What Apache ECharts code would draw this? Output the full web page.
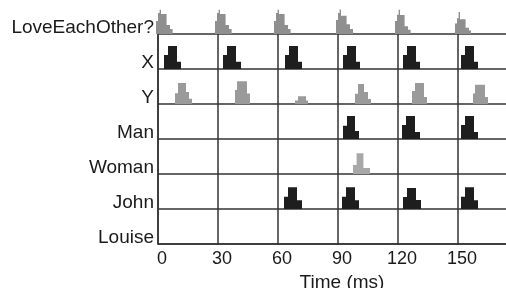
<!DOCTYPE html>
<html>
<head>
<meta charset="utf-8">
<script src="https://cdn.jsdelivr.net/npm/echarts@6/dist/echarts.min.js"></script>
<style>html,body{margin:0;padding:0;background:#fff}#c{width:506px;height:288px}</style>
</head>
<body>
<div id="c"></div>
<script>
// Row labels, top to bottom
const rows = ['LoveEachOther?', 'X', 'Y', 'Man', 'Woman', 'John', 'Louise'];
const xTicks = [0, 30, 60, 90, 120, 150];
const xMax = 174;

// Activity bursts per unit: each burst = list of bins [tStart(ms), tEnd(ms), height (row units)]
const loveEachOther = [
  [[-1,0,.37],[0,.8,.6],[.8,1.5,.69],[1.5,4.3,.57],[4.3,6,.26],[6,7.3,.14]],
  [[28.5,29.5,.37],[29.5,30.3,.6],[30.3,31,.69],[31,33.8,.57],[33.8,35.5,.26],[35.5,36.8,.14]],
  [[58,59,.37],[59,59.8,.6],[59.8,60.5,.69],[60.5,63.3,.57],[63.3,65,.26],[65,66.3,.14]],
  [[89,90,.4],[90,90.8,.6],[90.8,91.5,.7],[91.5,94.3,.52],[94.3,96,.28],[96,97.5,.14]],
  [[118.5,119.5,.37],[119.5,120.3,.55],[120.3,121,.69],[121,123.3,.54],[123.3,125,.22],[125,126.3,.12]],
  [[148.5,149.5,.3],[149.5,150.3,.45],[150.3,151,.63],[151,153.8,.42],[153.8,155.5,.18],[155.5,156.5,.1]]
];
const unitX = [
  [[3,5,.4],[5,9.5,.66],[9.5,11.5,.21]],
  [[32.5,34.5,.4],[34.5,39,.66],[39,41.5,.21]],
  [[63.5,65.5,.4],[65.5,70,.66],[70,72,.21]],
  [[92.5,94.5,.4],[94.5,99,.66],[99,101,.21]],
  [[122.5,124.5,.4],[124.5,129,.66],[129,131,.21]],
  [[151.5,153.5,.4],[153.5,158,.66],[158,160,.21]]
];
const unitY = [
  [[8.5,10,.31],[10,14,.6],[14,15.5,.34],[15.5,17,.15]],
  [[38.5,39.5,.4],[39.5,44.5,.65],[44.5,46,.3]],
  [[68.5,70,.1],[70,74,.22],[74,75,.1]],
  [[98.5,100,.29],[100,103,.57],[103,105,.34],[105,106.5,.14]],
  [[127,128.5,.37],[128.5,133,.6],[133,134.5,.2]],
  [[157.5,158.5,.3],[158.5,163.5,.55],[163.5,165,.2]]
];
const unitMan = [
  [[92.5,94.5,.38],[94.5,98.5,.66],[98.5,100.5,.23]],
  [[122,124,.4],[124,128.5,.66],[128.5,131,.2]],
  [[151.5,153.5,.4],[153.5,158,.66],[158,160,.2]]
];
const unitWoman = [
  [[97.5,99.3,.26],[99.3,102.7,.59],[102.7,106,.17]]
];
const unitJohn = [
  [[63,65,.35],[65,69.5,.62],[69.5,72,.25]],
  [[92,94,.35],[94,98.5,.62],[98.5,100.5,.25]],
  [[122.5,124.5,.34],[124.5,129,.6],[129,131.5,.26]],
  [[151.5,153.5,.35],[153.5,158,.62],[158,160,.25]]
];
const unitLouise = [];

const rowData = [loveEachOther, unitX, unitY, unitMan, unitWoman, unitJohn, unitLouise];
const rowColors = ['#8f8f8f', '#1e1e1e', '#9a9a9a', '#1e1e1e', '#a8a8a8', '#1e1e1e', '#1e1e1e'];

const font = 'Liberation Sans, Arial, Helvetica, sans-serif';
const lineColor = '#333';

const series = rowData.map(function (bursts, r) {
  const base = rows.length - 1 - r;
  return {
    type: 'custom',
    clip: false,
    data: bursts.map(function (b) { return [b[0][0], base]; }),
    renderItem: function (params, api) {
      const bins = bursts[params.dataIndex];
      const pts = [];
      pts.push(api.coord([bins[0][0], base]));
      bins.forEach(function (bin) {
        pts.push(api.coord([bin[0], base + bin[2]]));
        pts.push(api.coord([bin[1], base + bin[2]]));
      });
      pts.push(api.coord([bins[bins.length - 1][1], base]));
      return {
        type: 'polygon',
        shape: { points: pts },
        style: { fill: rowColors[r], stroke: null }
      };
    }
  };
});

const chart = echarts.init(document.getElementById('c'), null, { renderer: 'canvas' });
chart.setOption({
  animation: false,
  backgroundColor: '#fff',
  grid: { left: 158, right: 0, top: 34, bottom: 44, containLabel: false, outerBoundsMode: 'none' },
  xAxis: {
    type: 'value', min: 0, max: xMax, interval: 30,
    name: 'Time (ms)', nameLocation: 'middle', nameGap: 25,
    nameTextStyle: { fontFamily: font, fontSize: 19, color: '#1a1a1a', padding: [0, 0, 0, 20] },
    axisLine: { show: true, lineStyle: { color: lineColor, width: 1.5 } },
    axisTick: { show: false },
    splitLine: { show: true, showMaxLine: false, lineStyle: { color: lineColor, width: 1.5 } },
    axisLabel: {
      fontFamily: font, fontSize: 18, color: '#1a1a1a', margin: 6, padding: [0, 0, 0, 8],
      formatter: function (v) { return xTicks.indexOf(v) >= 0 ? String(v) : ''; }
    }
  },
  yAxis: {
    type: 'value', min: 0, max: rows.length - 1, interval: 1,
    axisLine: { show: true, lineStyle: { color: lineColor, width: 1.5 } },
    axisTick: { show: false },
    splitLine: { show: true, lineStyle: { color: lineColor, width: 1.5 } },
    axisLabel: {
      fontFamily: font, fontSize: 19, color: '#1a1a1a', margin: 4,
      verticalAlign: 'bottom', lineHeight: 13,
      formatter: function (v) { return rows[rows.length - 1 - v] || ''; }
    }
  },
  series: series
});
</script>
</body>
</html>
